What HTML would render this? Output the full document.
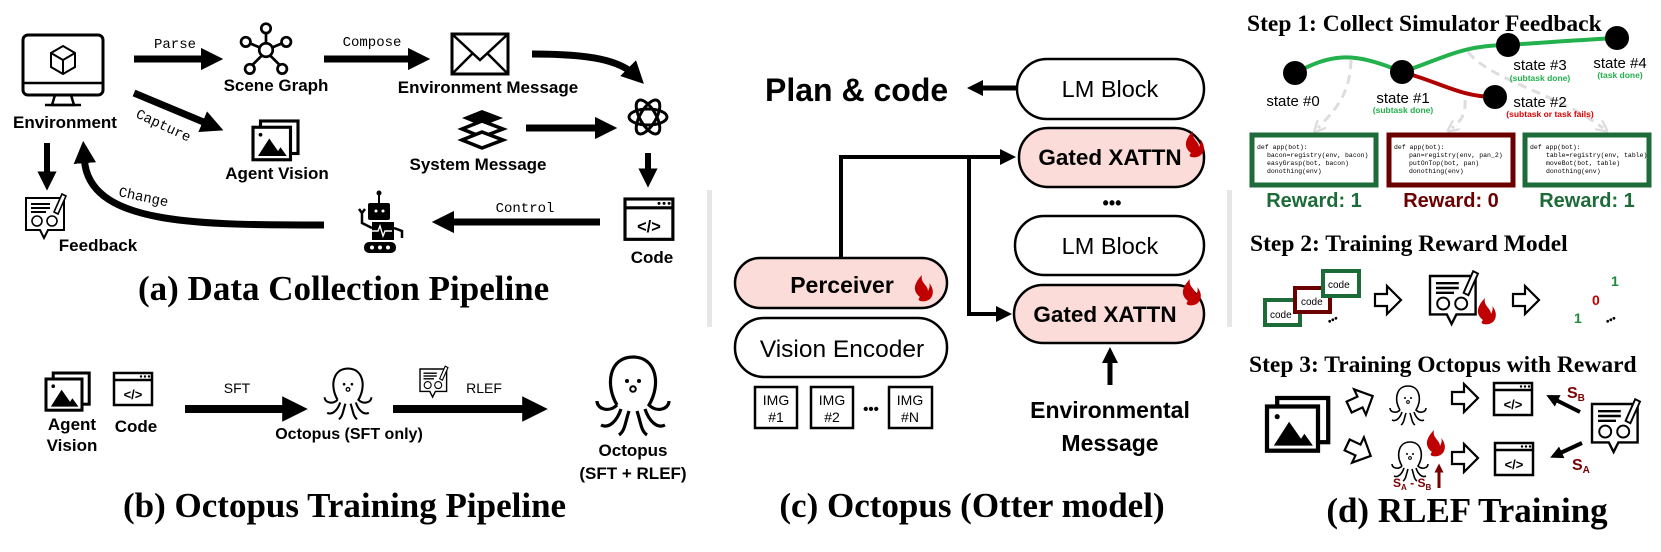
<!DOCTYPE html>
<html><head><meta charset="utf-8"><style>
html,body{margin:0;padding:0;background:#fff;}
svg{display:block;}
.s{font-family:"Liberation Sans",sans-serif;}
.b{font-family:"Liberation Sans",sans-serif;font-weight:bold;}
.m{font-family:"Liberation Mono",monospace;}
.t{font-family:"Liberation Serif",serif;font-weight:bold;}
</style></head><body>
<svg width="1661" height="552" viewBox="0 0 1661 552" xmlns="http://www.w3.org/2000/svg">
<defs>
<marker id="ah" viewBox="0 0 10 10" refX="5" refY="5" markerWidth="3.2" markerHeight="3.2" orient="auto"><path d="M0,0 L10,5 L0,10 z" fill="#000"/></marker>
<marker id="ah2" viewBox="0 0 10 10" refX="5" refY="5" markerWidth="4" markerHeight="4" orient="auto"><path d="M0,0 L10,5 L0,10 z" fill="#000"/></marker>
<marker id="ahg" viewBox="0 0 10 10" refX="5" refY="5" markerWidth="4" markerHeight="4" orient="auto"><path d="M0,0 L10,5 L0,10" fill="none" stroke="#ddd" stroke-width="2"/></marker>
<marker id="ahr" viewBox="0 0 10 10" refX="5" refY="5" markerWidth="3" markerHeight="3" orient="auto"><path d="M0,0 L10,5 L0,10 z" fill="#7a0000"/></marker>
<g id="flame"><path d="M0,0 C-8,-6 -6,-14 2,-22 C0,-14 8,-12 8,-6 C10,-10 10,-12 9,-14 C15,-8 14,2 6,4 C2,5 -4,4 0,0 Z" fill="#c00000"/></g>
<g id="codeic"><rect x="0" y="0" width="38" height="32" fill="#fff" stroke="#000" stroke-width="2.5"/><line x1="0" y1="7" x2="38" y2="7" stroke="#000" stroke-width="2.5"/><circle cx="27" cy="3.5" r="1.2"/><circle cx="31" cy="3.5" r="1.2"/><circle cx="35" cy="3.5" r="1.2"/><text x="19" y="26" text-anchor="middle" class="b" font-size="13">&lt;/&gt;</text></g>
<g id="imgic"><rect x="6" y="0" width="30" height="26" fill="#fff" stroke="#000" stroke-width="2.5"/><rect x="0" y="5" width="30" height="26" fill="#fff" stroke="#000" stroke-width="2.5"/><path d="M4,28 L13,14 L20,24 L22,21 L27,28 Z" fill="#000"/><circle cx="6" cy="11" r="1.5"/></g>
<g id="fbic"><path d="M0,0 H38 V32 H22 L18,40 L14,32 H0 Z" fill="#fff" stroke="#000" stroke-width="2"/><line x1="5" y1="6" x2="24" y2="6" stroke="#000" stroke-width="2"/><line x1="5" y1="10" x2="24" y2="10" stroke="#000" stroke-width="2"/><line x1="5" y1="14" x2="20" y2="14" stroke="#000" stroke-width="2"/><circle cx="11" cy="23" r="5" fill="none" stroke="#000" stroke-width="1.6"/><circle cx="26" cy="23" r="5" fill="none" stroke="#000" stroke-width="1.6"/><path d="M28,14 L36,-4 L40,-2 L32,16 Z" fill="#fff" stroke="#000" stroke-width="1.6"/></g>
<g id="octo"><path d="M-8,6 C-14,-4 -12,-18 0,-18 C12,-18 14,-4 8,6 C12,10 18,8 18,4 M-8,6 C-12,10 -18,8 -18,4 M-6,8 C-8,14 -12,18 -16,16 M6,8 C8,14 12,18 16,16 M-2,9 C-4,15 -4,19 -7,21 M2,9 C4,15 4,19 7,21" fill="none" stroke="#000" stroke-width="1.6"/><circle cx="-3" cy="-6" r="1"/><circle cx="3" cy="-6" r="1"/><circle cx="0" cy="-2" r="1.4" fill="none" stroke="#000"/></g>
<g id="hol"><path d="M0,-6 H12 V-14 L26,0 L12,14 V6 H0 Z" fill="#fff" stroke="#000" stroke-width="2.2"/></g>
</defs>

<rect x="707" y="190" width="5" height="137" fill="#e6e6e6"/>
<rect x="1227" y="190" width="5" height="137" fill="#e6e6e6"/>

<!-- (a) -->
<g>
<rect x="23" y="35" width="80" height="60" rx="5" fill="#fff" stroke="#000" stroke-width="3"/>
<line x1="23" y1="83" x2="103" y2="83" stroke="#000" stroke-width="2.5"/>
<path d="M55,95 L52,105 H74 L71,95" fill="none" stroke="#000" stroke-width="2.5"/>
<line x1="45" y1="105" x2="81" y2="105" stroke="#000" stroke-width="2.5"/>
<path d="M63,46 L75,53 V67 L63,74 L51,67 V53 Z M63,60 L75,53 M63,60 L51,53 M63,60 V74" fill="none" stroke="#000" stroke-width="2"/>
<text x="65" y="128" text-anchor="middle" class="b" font-size="17">Environment</text>

<text x="175" y="48" text-anchor="middle" class="m" font-size="14">Parse</text>
<line x1="134" y1="59" x2="212" y2="59" stroke="#000" stroke-width="7" marker-end="url(#ah)"/>
<g transform="translate(266 50) scale(1.35) translate(-262 -52)" fill="none" stroke="#000" stroke-width="2"><circle cx="262" cy="52" r="5"/><circle cx="262" cy="36" r="3.5"/><circle cx="247" cy="46" r="3.5"/><circle cx="277" cy="46" r="3.5"/><circle cx="250" cy="66" r="3.5"/><circle cx="274" cy="66" r="3.5"/><path d="M262,47 V40 M257,50 L250,47 M267,50 L274,47 M259,56 L252,63 M265,56 L272,63"/></g>
<text x="276" y="91" text-anchor="middle" class="b" font-size="17">Scene Graph</text>

<text x="135" y="117" class="m" font-size="14" transform="rotate(25 135 117)">Capture</text>
<line x1="134" y1="93" x2="213" y2="126" stroke="#000" stroke-width="7" marker-end="url(#ah)"/>
<use href="#imgic" transform="translate(253 121) scale(1.25)"/>
<text x="277" y="179" text-anchor="middle" class="b" font-size="17">Agent Vision</text>

<text x="372" y="46" text-anchor="middle" class="m" font-size="14">Compose</text>
<line x1="324" y1="59" x2="419" y2="59" stroke="#000" stroke-width="7" marker-end="url(#ah)"/>
<rect x="452" y="34" width="56" height="40" fill="#fff" stroke="#000" stroke-width="3"/>
<path d="M452,34 L480,60 L508,34 M452,74 L472,54 M508,74 L488,54" fill="none" stroke="#000" stroke-width="2.5"/>
<text x="488" y="93" text-anchor="middle" class="b" font-size="17">Environment Message</text>

<path d="M532,54 C590,54 620,60 636,76" fill="none" stroke="#000" stroke-width="7" marker-end="url(#ah)"/>
<g transform="translate(648 117)" fill="none" stroke="#000" stroke-width="3">
<ellipse rx="19" ry="8"/><ellipse rx="19" ry="8" transform="rotate(60)"/><ellipse rx="19" ry="8" transform="rotate(120)"/>
</g>
<g>
<path d="M462,118 L482,110 L503,118 L482,126 Z" fill="#000"/>
<path d="M462,129 L482,121 L503,129 L482,137 Z" fill="#fff" stroke="#000" stroke-width="3.5"/>
<path d="M462,140 L482,132 L503,140 L482,148 Z" fill="#fff" stroke="#000" stroke-width="3.5"/>
</g>
<text x="478" y="170" text-anchor="middle" class="b" font-size="17">System Message</text>
<line x1="526" y1="128" x2="606" y2="128" stroke="#000" stroke-width="7" marker-end="url(#ah)"/>

<line x1="648" y1="153" x2="648" y2="178" stroke="#000" stroke-width="6" marker-end="url(#ah)"/>
<use href="#codeic" transform="translate(625 199) scale(1.26)"/>
<text x="652" y="263" text-anchor="middle" class="b" font-size="17">Code</text>

<text x="525" y="212" text-anchor="middle" class="m" font-size="14">Control</text>
<line x1="600" y1="222" x2="443" y2="222" stroke="#000" stroke-width="7" marker-end="url(#ah)"/>
<g transform="translate(0 13)"><rect x="368" y="190" width="22" height="17" rx="2"/><circle cx="376" cy="198" r="1.5" fill="#fff"/><circle cx="383" cy="198" r="1.5" fill="#fff"/><line x1="379" y1="180" x2="379" y2="190" stroke="#000" stroke-width="2"/><circle cx="379" cy="180" r="2.5"/><rect x="372" y="209" width="22" height="18"/><path d="M372,218 L378,218 L380,213 L383,223 L385,218 L392,218" fill="none" stroke="#fff" stroke-width="1.4"/><path d="M372,215 L362,210 L362,198 M359,196 L362,200 L365,196" fill="none" stroke="#000" stroke-width="2.5"/><path d="M394,215 L402,218 L402,225" fill="none" stroke="#000" stroke-width="2.5"/><rect x="364" y="229" width="32" height="11" rx="5"/><circle cx="372" cy="234.5" r="2" fill="#fff"/><circle cx="380" cy="234.5" r="2" fill="#fff"/><circle cx="388" cy="234.5" r="2" fill="#fff"/></g>

<path d="M324,225 C200,225 95,225 85,165 L84,152" fill="none" stroke="#000" stroke-width="7" marker-end="url(#ah)"/>
<text x="118" y="196" class="m" font-size="14" transform="rotate(12 118 196)">Change</text>
<line x1="47" y1="143" x2="47" y2="181" stroke="#000" stroke-width="6" marker-end="url(#ah)"/>
<use href="#fbic" transform="translate(26 198)"/>
<text x="98" y="251" text-anchor="middle" class="b" font-size="17">Feedback</text>

<text x="138" y="300" class="t" font-size="35">(a) Data Collection Pipeline</text>
</g>

<!-- (b) -->
<g>
<use href="#imgic" transform="translate(46 373) scale(1.2)"/>
<text x="72" y="430" text-anchor="middle" class="b" font-size="17">Agent</text>
<text x="72" y="451" text-anchor="middle" class="b" font-size="17">Vision</text>
<use href="#codeic" transform="translate(114 373)"/>
<text x="136" y="432" text-anchor="middle" class="b" font-size="17">Code</text>
<text x="237" y="393" text-anchor="middle" class="s" font-size="14">SFT</text>
<line x1="185" y1="409" x2="295" y2="409" stroke="#000" stroke-width="8" marker-end="url(#ah)"/>
<use href="#octo" transform="translate(348 392) scale(1.3)"/>
<text x="349" y="439" text-anchor="middle" class="b" font-size="16">Octopus (SFT only)</text>
<use href="#fbic" transform="translate(420 369) scale(0.7)"/>
<text x="484" y="393" text-anchor="middle" class="s" font-size="14">RLEF</text>
<line x1="393" y1="409" x2="535" y2="409" stroke="#000" stroke-width="8" marker-end="url(#ah)"/>
<use href="#octo" transform="translate(633 393) scale(2.0)"/>
<text x="633" y="456" text-anchor="middle" class="b" font-size="17">Octopus</text>
<text x="633" y="479" text-anchor="middle" class="b" font-size="17">(SFT + RLEF)</text>
<text x="123" y="517" class="t" font-size="35">(b) Octopus Training Pipeline</text>
</g>

<!-- (c) -->
<g>
<text x="765" y="101" class="b" font-size="32">Plan &amp; code</text>
<line x1="1017" y1="88" x2="975" y2="88" stroke="#000" stroke-width="5" marker-end="url(#ah)"/>
<rect x="1017" y="59" width="187" height="60" rx="30" fill="#fff" stroke="#000" stroke-width="2.5"/>
<text x="1110" y="97" text-anchor="middle" class="s" font-size="23.5">LM Block</text>
<rect x="1019" y="128" width="185" height="59" rx="29" fill="#fbdcd8" stroke="#000" stroke-width="2.5"/>
<text x="1110" y="165" text-anchor="middle" class="b" font-size="22.5">Gated XATTN</text>
<use href="#flame" x="1191" y="153"/>
<text x="1112" y="209" text-anchor="middle" class="b" font-size="18">•••</text>
<rect x="1015" y="216" width="189" height="59" rx="29" fill="#fff" stroke="#000" stroke-width="2.5"/>
<text x="1110" y="254" text-anchor="middle" class="s" font-size="23.5">LM Block</text>
<rect x="1014" y="285" width="190" height="58" rx="29" fill="#fbdcd8" stroke="#000" stroke-width="2.5"/>
<text x="1105" y="322" text-anchor="middle" class="b" font-size="22.5">Gated XATTN</text>
<use href="#flame" x="1188" y="301"/>
<line x1="1110" y1="385" x2="1110" y2="355" stroke="#000" stroke-width="5" marker-end="url(#ah)"/>
<text x="1110" y="418" text-anchor="middle" class="b" font-size="23">Environmental</text>
<text x="1110" y="451" text-anchor="middle" class="b" font-size="23">Message</text>

<polyline points="841,258 841,157 1008,157" fill="none" stroke="#000" stroke-width="4" marker-end="url(#ah2)"/>
<polyline points="969,157 969,314 1004,314" fill="none" stroke="#000" stroke-width="4" marker-end="url(#ah2)"/>
<rect x="735" y="258" width="212" height="50" rx="25" fill="#fbdcd8" stroke="#000" stroke-width="2.5"/>
<text x="842" y="293" text-anchor="middle" class="b" font-size="23">Perceiver</text>
<use href="#flame" x="920" y="297"/>
<rect x="735" y="318" width="212" height="59" rx="29" fill="#fff" stroke="#000" stroke-width="2.5"/>
<text x="842" y="357" text-anchor="middle" class="s" font-size="24.5">Vision Encoder</text>
<g class="s" font-size="14" text-anchor="middle">
<rect x="755" y="387" width="42" height="41" fill="#fff" stroke="#000" stroke-width="2.5"/><text x="776" y="405">IMG</text><text x="776" y="422">#1</text>
<rect x="811" y="387" width="42" height="41" fill="#fff" stroke="#000" stroke-width="2.5"/><text x="832" y="405">IMG</text><text x="832" y="422">#2</text>
<rect x="889" y="387" width="43" height="41" fill="#fff" stroke="#000" stroke-width="2.5"/><text x="910" y="405">IMG</text><text x="910" y="422">#N</text>
</g>
<text x="871" y="414" text-anchor="middle" class="b" font-size="15">•••</text>
<text x="972" y="517" text-anchor="middle" class="t" font-size="35">(c) Octopus (Otter model)</text>
</g>

<!-- (d) -->
<g>
<text x="1247" y="31" class="t" font-size="23.5">Step 1: Collect Simulator Feedback</text>
<path d="M1295,73 C1330,55 1350,50 1402,72 C1440,60 1460,45 1508,45 C1550,42 1580,40 1617,38" fill="none" stroke="#22b14c" stroke-width="4"/>
<path d="M1402,72 C1440,82 1460,97 1495,97" fill="none" stroke="#b00000" stroke-width="4"/>
<g fill="none" stroke="#ddd" stroke-width="3" stroke-dasharray="9,6">
<path d="M1351,60 C1350,95 1335,110 1318,128" marker-end="url(#ahg)"/>
<path d="M1465,100 C1466,115 1460,122 1452,128" marker-end="url(#ahg)"/>
<path d="M1468,52 C1490,80 1560,95 1603,128" marker-end="url(#ahg)"/>
</g>
<circle cx="1295" cy="73" r="12"/><circle cx="1402" cy="72" r="12"/><circle cx="1495" cy="97" r="12"/><circle cx="1508" cy="45" r="12"/><circle cx="1617" cy="38" r="12"/>
<g class="s" font-size="15" text-anchor="middle">
<text x="1293" y="106">state #0</text><text x="1403" y="103">state #1</text><text x="1540" y="107">state #2</text><text x="1540" y="70">state #3</text><text x="1620" y="68">state #4</text>
</g>
<g class="b" font-size="8.5" text-anchor="middle">
<text x="1403" y="113" fill="#22b14c">(subtask done)</text><text x="1550" y="117" fill="#e00000">(subtask or task fails)</text><text x="1540" y="81" fill="#22b14c">(subtask done)</text><text x="1620" y="78" fill="#22b14c">(task done)</text>
</g>
<rect x="1252" y="135" width="124" height="50" fill="#fff" stroke="#1e6b3a" stroke-width="5"/>
<rect x="1389" y="135" width="124" height="50" fill="#fff" stroke="#6b0000" stroke-width="5"/>
<rect x="1525" y="135" width="124" height="50" fill="#fff" stroke="#1e6b3a" stroke-width="5"/>
<g class="m" font-size="6.5">
<text x="1257" y="149">def app(bot):</text><text x="1267" y="157">bacon=registry(env, bacon)</text><text x="1267" y="165">easyGrasp(bot, bacon)</text><text x="1267" y="173">donothing(env)</text>
<text x="1394" y="149">def app(bot):</text><text x="1409" y="157">pan=registry(env, pan_2)</text><text x="1409" y="165">putOnTop(bot, pan)</text><text x="1409" y="173">donothing(env)</text>
<text x="1530" y="149">def app(bot):</text><text x="1546" y="157">table=registry(env, table)</text><text x="1546" y="165">moveBot(bot, table)</text><text x="1546" y="173">donothing(env)</text>
</g>
<g class="b" font-size="20" text-anchor="middle">
<text x="1314" y="207" fill="#1e6b3a">Reward: 1</text><text x="1451" y="207" fill="#6b0000">Reward: 0</text><text x="1587" y="207" fill="#1e6b3a">Reward: 1</text>
</g>

<text x="1250" y="251" class="t" font-size="23.5">Step 2: Training Reward Model</text>
<rect x="1265" y="300" width="35" height="25" fill="#fff" stroke="#1e6b3a" stroke-width="4"/><text x="1270" y="318" class="s" font-size="10">code</text>
<rect x="1295" y="288" width="35" height="24" fill="#fff" stroke="#6b0000" stroke-width="4"/><text x="1301" y="305" class="s" font-size="10">code</text>
<rect x="1323" y="271" width="36" height="25" fill="#fff" stroke="#1e6b3a" stroke-width="4"/><text x="1328" y="288" class="s" font-size="10">code</text>
<text x="1327" y="322" class="b" font-size="10" transform="rotate(-25 1335 318)">•••</text>
<use href="#hol" x="1375" y="300"/>
<use href="#fbic" transform="translate(1430 276) scale(1.2)"/>
<use href="#flame" x="1483" y="320"/>
<use href="#hol" x="1513" y="300"/>
<text x="1574" y="323" class="b" font-size="14" fill="#1e8b3a">1</text>
<text x="1592" y="305" class="b" font-size="14" fill="#c00000">0</text>
<text x="1611" y="286" class="b" font-size="14" fill="#1e8b3a">1</text>
<text x="1605" y="322" class="b" font-size="10" transform="rotate(-25 1613 318)">•••</text>

<text x="1249" y="372" class="t" font-size="23.5">Step 3: Training Octopus with Reward</text>
<use href="#imgic" transform="translate(1267 398) scale(1.7)"/>
<use href="#hol" x="1348" y="402" transform="rotate(-25 1360 402)"/>
<use href="#hol" x="1346" y="450" transform="rotate(25 1358 450)"/>
<use href="#octo" x="1408" y="404"/>
<use href="#octo" x="1410" y="460"/>
<use href="#flame" x="1432" y="452"/>
<line x1="1439" y1="488" x2="1439" y2="468" stroke="#7a0000" stroke-width="3" marker-end="url(#ahr)"/>
<text x="1393" y="487" class="b" font-size="12" fill="#7a0000">S<tspan font-size="8" dy="3">A</tspan><tspan dy="-3"> - S</tspan><tspan font-size="8" dy="3">B</tspan></text>
<use href="#hol" x="1452" y="398"/>
<use href="#hol" x="1452" y="458"/>
<use href="#codeic" x="1494" y="383"/>
<use href="#codeic" x="1495" y="443"/>
<line x1="1580" y1="412" x2="1552" y2="398" stroke="#000" stroke-width="4" marker-end="url(#ah)"/>
<line x1="1582" y1="443" x2="1556" y2="455" stroke="#000" stroke-width="4" marker-end="url(#ah)"/>
<text x="1567" y="398" class="b" font-size="16" fill="#7a0000">S<tspan font-size="10" dy="3">B</tspan></text>
<text x="1572" y="470" class="b" font-size="16" fill="#7a0000">S<tspan font-size="10" dy="3">A</tspan></text>
<use href="#fbic" transform="translate(1592 404) scale(1.2)"/>
<text x="1467" y="522" text-anchor="middle" class="t" font-size="35">(d) RLEF Training</text>
</g>
</svg>
</body></html>
